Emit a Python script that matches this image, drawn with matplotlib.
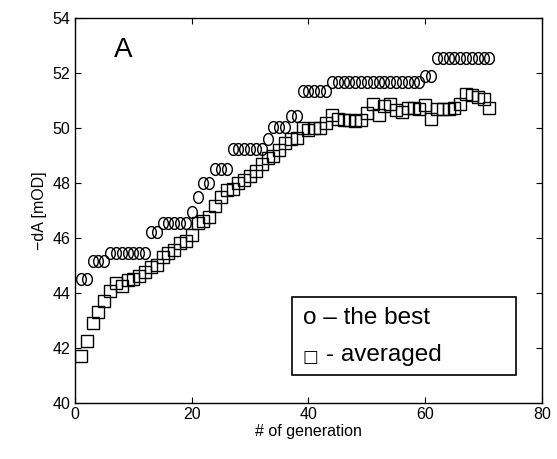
import matplotlib
matplotlib.use('Agg')
import matplotlib.pyplot as plt
import numpy as np
from matplotlib.patches import Rectangle

plt.rcParams['font.family'] = ['Liberation Sans', 'DejaVu Sans']

# generation numbers
generations = list(range(1, 72))

# best individual per generation
best = ([44.5] * 2 + [45.17] * 3 + [45.45] * 7 + [46.2] * 2 + [46.55] * 5 +
        [46.95, 47.5] + [48.0] * 2 + [48.5] * 3 + [49.25] * 6 + [49.6] +
        [50.05] * 3 + [50.45] * 2 + [51.35] * 5 + [51.7] * 16 + [51.9] * 2 +
        [52.55] * 10)

# population average per generation
averaged = [41.7, 42.25, 42.9, 43.3, 43.7, 44.05, 44.35, 44.25, 44.45, 44.5,
            44.6, 44.75, 44.95, 45.0, 45.3, 45.45, 45.55, 45.8, 45.9, 46.1,
            46.55, 46.6, 46.75, 47.15, 47.5, 47.75, 47.8, 48.0, 48.1, 48.25,
            48.45, 48.7, 48.9, 49.0, 49.2, 49.45, 49.6, 49.65, 50.0, 49.95,
            50.0, 50.0, 50.2, 50.5, 50.35, 50.3, 50.3, 50.25, 50.3, 50.55,
            50.9, 50.5, 50.8, 50.9, 50.65, 50.6, 50.75, 50.75, 50.7, 50.85,
            50.35, 50.7, 50.7, 50.7, 50.75, 50.9, 51.25, 51.2, 51.15, 51.05,
            50.75]

xticks = [0, 20, 40, 60, 80]
yticks = [40, 42, 44, 46, 48, 50, 52, 54]

# slightly tall ellipse like in the scanned figure
t = np.linspace(0, 2 * np.pi, 41)
ellipse = np.column_stack([0.82 * np.cos(t), np.sin(t)])

fig = plt.figure(figsize=(5.57, 4.59), dpi=100)
ax = fig.add_axes([0.1347, 0.123, 0.8383, 0.8367])

ax.plot(generations, best, linestyle='none', marker=ellipse, mfc='none',
        mec='black', ms=8.5, mew=1.0)
ax.plot(generations, averaged, 's', mfc='none', mec='black', ms=8.5, mew=1.0)

ax.set_xlim(0, 80)
ax.set_ylim(40, 54)
ax.set_xticks(xticks)
ax.set_yticks(yticks)
ax.tick_params(direction='in', top=True, right=True, length=4.5, labelsize=11.5)
for s in ax.spines.values():
    s.set_linewidth(1.0)

ax.set_xlabel('# of generation', fontsize=11.5, labelpad=1)
ax.set_ylabel('\u2212dA [mOD]', fontsize=11.5, labelpad=4)

ax.text(8.2, 52.85, 'A', fontsize=20, ha='center', va='center')

# legend box drawn by hand
ax.add_patch(Rectangle((0.465, 0.0716), 0.479, 0.2034, transform=ax.transAxes,
                       fill=True, fc='white', ec='black', lw=1.2, zorder=5))
ax.text(0.488, 0.22, 'o \u2013 the best', transform=ax.transAxes,
        fontsize=17.5, va='center', zorder=6)
ax.text(0.488, 0.118, '\u25a1', transform=ax.transAxes,
        fontsize=12, va='center', zorder=6, family=['DejaVu Sans'])
ax.text(0.538, 0.124, '- averaged', transform=ax.transAxes,
        fontsize=17.5, va='center', zorder=6)

plt.savefig('out.png', dpi=100)
